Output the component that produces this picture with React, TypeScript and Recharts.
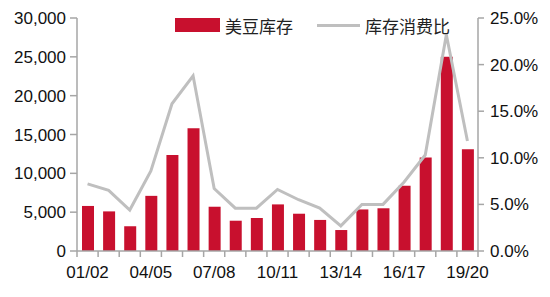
import React from "react";
import { ComposedChart, Bar, Line, XAxis, YAxis } from "recharts";

const categories = [
  "01/02", "02/03", "03/04", "04/05", "05/06", "06/07", "07/08", "08/09", "09/10", "10/11",
  "11/12", "12/13", "13/14", "14/15", "15/16", "16/17", "17/18", "18/19", "19/20",
];
const stocks = [
  5800, 5100, 3200, 7100, 12350, 15800, 5700, 3900, 4250, 6000,
  4800, 4000, 2700, 5350, 5500, 8400, 12050, 25000, 13100,
];
const ratio = [
  7.2, 6.5, 4.4, 8.6, 15.8, 18.8, 6.7, 4.6, 4.6, 6.6,
  5.5, 4.6, 2.7, 5.0, 5.0, 7.4, 10.3, 23.2, 11.8,
];
const leftTicks = [0, 5000, 10000, 15000, 20000, 25000, 30000];
const rightTicks = [0, 5, 10, 15, 20, 25];

const data = categories.map((c, i) => ({ name: c, stock: stocks[i], ratio: ratio[i] }));

const RED = "#C8102E";
const GRAY = "#BFBFBF";
const AXIS = "#A6A6A6";
const FONT = "'Liberation Sans', Arial, sans-serif";
const CJK = "'Noto Sans CJK SC', sans-serif";

const XTick = (props: any) => {
  const { x, y, payload, index } = props;
  const off = payload.offset || 0;
  const last = index === categories.length - 1;
  return (
    <g>
      <line x1={x - off} y1={y} x2={x - off} y2={y + 6} stroke={AXIS} strokeWidth={1.5} />
      {last && <line x1={x + off} y1={y} x2={x + off} y2={y + 6} stroke={AXIS} strokeWidth={1.5} />}
      {index % 3 === 0 && (
        <text x={x} y={y + 27} textAnchor="middle" fontSize={17} fontFamily={FONT} fill="#111">
          {payload.value}
        </text>
      )}
    </g>
  );
};

export default function App() {
  return (
    <div style={{ position: "absolute", left: 0, top: 0, width: 550, height: 297, background: "#fff" }}>
      <ComposedChart
        width={550}
        height={297}
        data={data}
        margin={{ top: 18, right: 0, bottom: 0, left: 0 }}
      >
        <XAxis
          dataKey="name"
          height={46}
          interval={0}
          tickLine={false}
          tickSize={0}
          tickMargin={0}
          axisLine={{ stroke: AXIS, strokeWidth: 1.5 }}
          tick={<XTick />}
        />
        <YAxis
          yAxisId="left"
          width={77}
          domain={[0, 30000]}
          ticks={leftTicks}
          interval={0}
          tickSize={7}
          tickMargin={4}
          axisLine={{ stroke: AXIS, strokeWidth: 1.5 }}
          tickLine={{ stroke: AXIS, strokeWidth: 1.5 }}
          tick={{ fontSize: 17, fontFamily: FONT, fill: "#111" }}
          tickFormatter={(v: number) => v.toLocaleString("en-US")}
        />
        <YAxis
          yAxisId="right"
          orientation="right"
          width={72}
          domain={[0, 25]}
          ticks={rightTicks}
          interval={0}
          tickSize={6}
          tickMargin={6}
          axisLine={{ stroke: AXIS, strokeWidth: 1.5 }}
          tickLine={{ stroke: AXIS, strokeWidth: 1.5 }}
          tick={{ fontSize: 17, fontFamily: FONT, fill: "#111", textAnchor: "start" }}
          tickFormatter={(v: number) => v.toFixed(1) + "%"}
        />
        <Bar yAxisId="left" dataKey="stock" fill={RED} barSize={12} isAnimationActive={false} />
        <Line
          yAxisId="right"
          dataKey="ratio"
          stroke={GRAY}
          strokeWidth={3}
          dot={false}
          type="linear"
          isAnimationActive={false}
        />
      </ComposedChart>
      <div
        style={{
          position: "absolute",
          left: 175,
          top: 14,
          display: "flex",
          alignItems: "center",
          fontFamily: CJK,
          fontSize: 17,
          color: "#222",
          height: 22,
          whiteSpace: "nowrap",
        }}
      >
        <span style={{ display: "inline-block", width: 45, height: 14, background: RED }} />
        <span style={{ marginLeft: 5 }}>美豆库存</span>
        <span style={{ display: "inline-block", width: 43, height: 3, background: GRAY, marginLeft: 24 }} />
        <span style={{ marginLeft: 5 }}>库存消费比</span>
      </div>
    </div>
  );
}
